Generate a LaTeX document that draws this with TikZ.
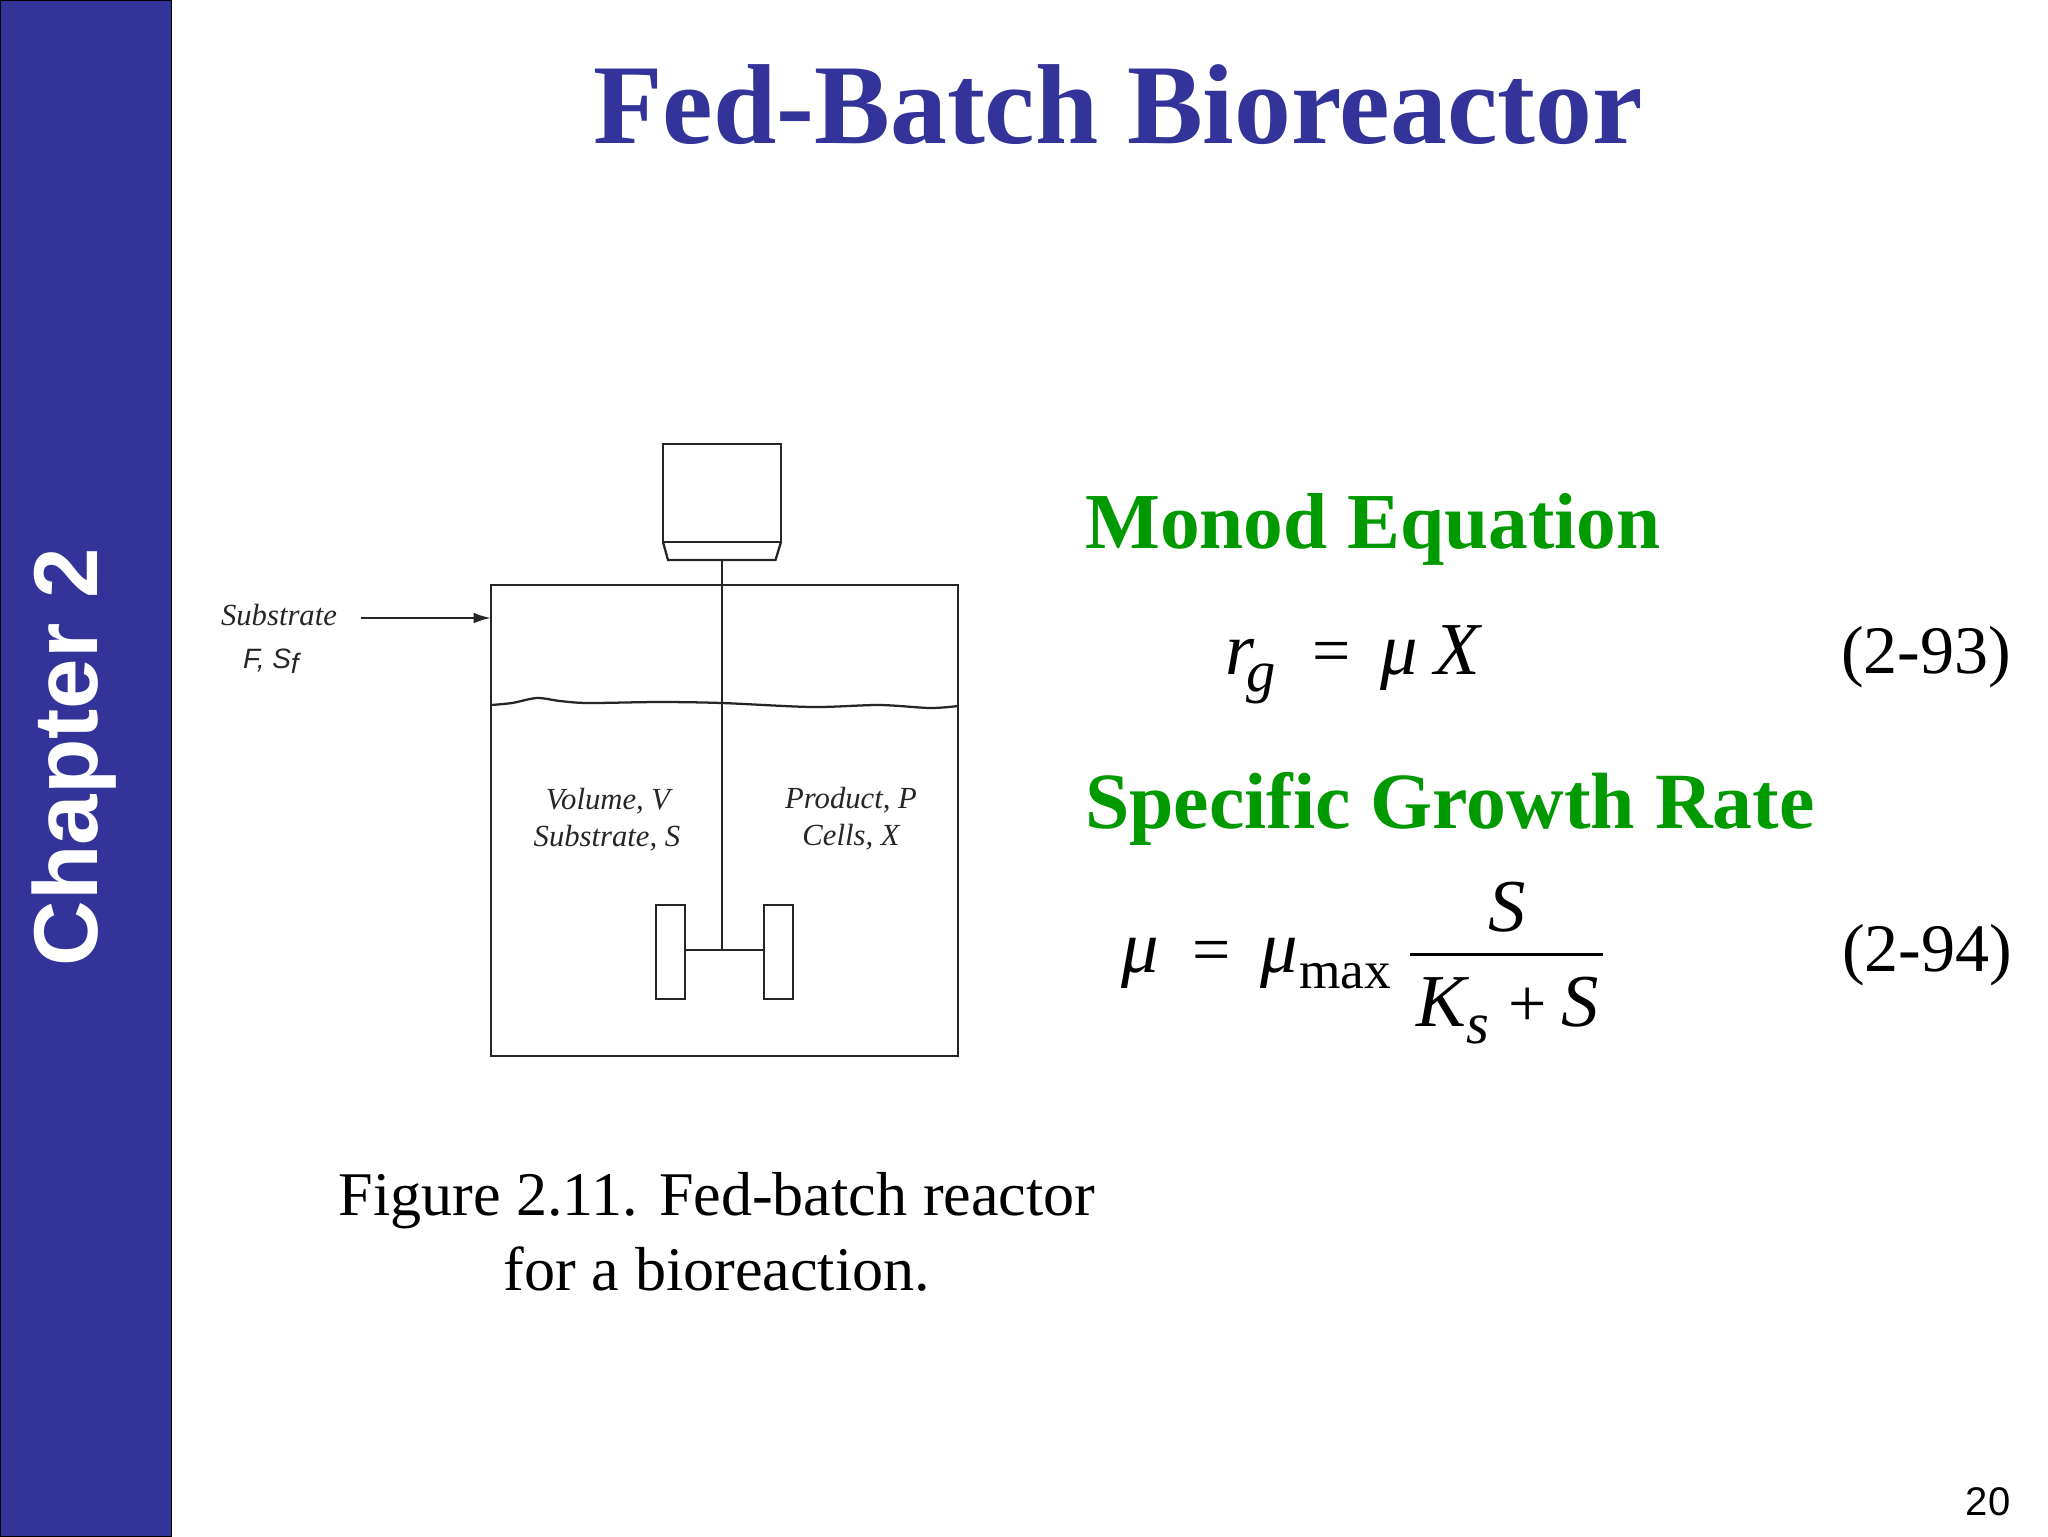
\documentclass[tikz,border=0pt]{standalone}
\usepackage{fontspec}
\usepackage{tikz}
\usetikzlibrary{arrows.meta}
\setmainfont{Liberation Serif}
\newfontfamily\arialfont{Liberation Sans}
\definecolor{slideblue}{HTML}{333399}
\definecolor{slidegreen}{HTML}{009900}
\newcommand{\fsize}[1]{\fontsize{#1}{#1}\selectfont}
\newcommand{\subtext}[3]{\makebox[#1][l]{#2}\raisebox{-12.75pt}{\fsize{44}#3}}
\tikzset{
  txt/.style={inner sep=0pt,anchor=base},
  lft/.style={inner sep=0pt,anchor=base west},
  head/.style={lft,text=slidegreen,font=\fsize{59.5}\bfseries},
  eqn/.style={lft,font=\fsize{56}\itshape},
  eqop/.style={lft,font=\fsize{51}},
  eqnum/.style={lft,font=\fsize{51}},
  sketch/.style={txt,text=black!85,font=\fsize{23}\itshape},
  captext/.style={txt,font=\fsize{46.6}},
  ln/.style={line width=1.7pt,draw=black!85}
}
\begin{document}
\begin{tikzpicture}[x=0.75pt,y=-0.75pt]
      \useasboundingbox (0,0) rectangle (2048,1536);
      \fill[white] (0,0) rectangle (2048,1536);
      \draw[fill=slideblue,draw=black,line width=0.75pt] (0,0) rectangle (171,1536);
      \node[txt,rotate=90,text=white,font=\fsize{68}\arialfont\bfseries] (chapter) at (97,757) {Chapter 2};
      \node[txt,text=slideblue,font=\fsize{85.3}\bfseries] (title) at (1118,143) {Fed-Batch Bioreactor};
      \node[txt,font=\fsize{30}\arialfont] (pagenum) at (1988,1515) {20};
      % motor
      \coordinate (motora) at (663,444);
      \coordinate (motorb) at (781,542);
      \coordinate (motorc) at (722,560);
      \draw[ln] (motora) rectangle (motorb);
      \draw[ln] (663,542) -- (668,560) -- (775.5,560) -- (781,542);
      % tank
      \coordinate (tanka) at (491,585);
      \coordinate (tankb) at (958,1056);
      \coordinate (hub) at (722,950);
      \draw[ln] (tanka) rectangle (tankb);
      \draw[ln] (motorc) -- (hub);
      \draw[ln] plot[smooth] coordinates {(491,705) (512,703) (537,698) (560,701) (588,703) (659,702) (722,703) (812,707) (879,705) (930,708) (958,706)};
      % paddles
      \coordinate (paddlea) at (685,950);
      \coordinate (paddleb) at (764,950);
      \draw[ln] (656,905) rectangle (685,999);
      \draw[ln] (764,905) rectangle (793,999);
      \draw[ln] (paddlea) -- (paddleb);
      % feed
      \coordinate (feed) at (361,618);
      \draw[ln,-{Latex[length=13pt,width=8pt]}] (feed) -- (tanka |- feed);
      \node[sketch] (feedone) at (279,625) {Substrate};
      \node[txt,text=black!85,font=\fsize{21}\arialfont\itshape] (feedtwo) at (271,668) {F, S\raisebox{-4pt}{f}};
      \node[sketch] (volume) at (608,809) {Volume, V};
      \node[sketch] (substrate) at (607,846) {Substrate, S};
      \node[sketch] (product) at (851,808) {Product, P};
      \node[sketch] (cells) at (851,845) {Cells, X};
      \node[captext] (capone) at (717,1215) {Figure 2.11. Fed-batch reactor};
      \node[captext] (captwo) at (717,1290) {for a bioreaction.};
      % equations
      \node[head] (monod) at (1085,548) {Monod Equation};
      \node[head,font=\fsize{59.8}\bfseries] (growth) at (1085,828) {Specific Growth Rate};
      \node[eqn] (rg) at (1225,674) {\subtext{15.75pt}{r}{g}};
      \node[eqop] (eqa) at (1312,673) {=};
      \node[eqn] (mua) at (1380,674) {μ};
      \node[eqn] (xa) at (1434,674) {X};
      \node[eqnum] (numa) at (1841,673) {(2-93)};
      \node[eqn] (mub) at (1121,972) {μ};
      \node[eqop] (eqb) at (1192,972) {=};
      \node[eqn] (muc) at (1260,972) {\makebox[29.25pt][l]{μ}\raisebox{-12pt}{\fsize{40}\upshape max}};
      \coordinate (bara) at (1410,954);
      \coordinate (barb) at (1603,954);
      \draw[line width=2.25pt] (bara) -- (barb);
      \node[eqn] (stop) at (1488,931) {S};
      \node[eqn] (kb) at (1416,1026) {\subtext{37.5pt}{K}{s}};
      \node[eqop] (plus) at (1508,1026) {+};
      \node[eqn] (sbot) at (1561,1026) {S};
      \node[eqnum] (numb) at (1842,971) {(2-94)};
    \end{tikzpicture}
\end{document}
